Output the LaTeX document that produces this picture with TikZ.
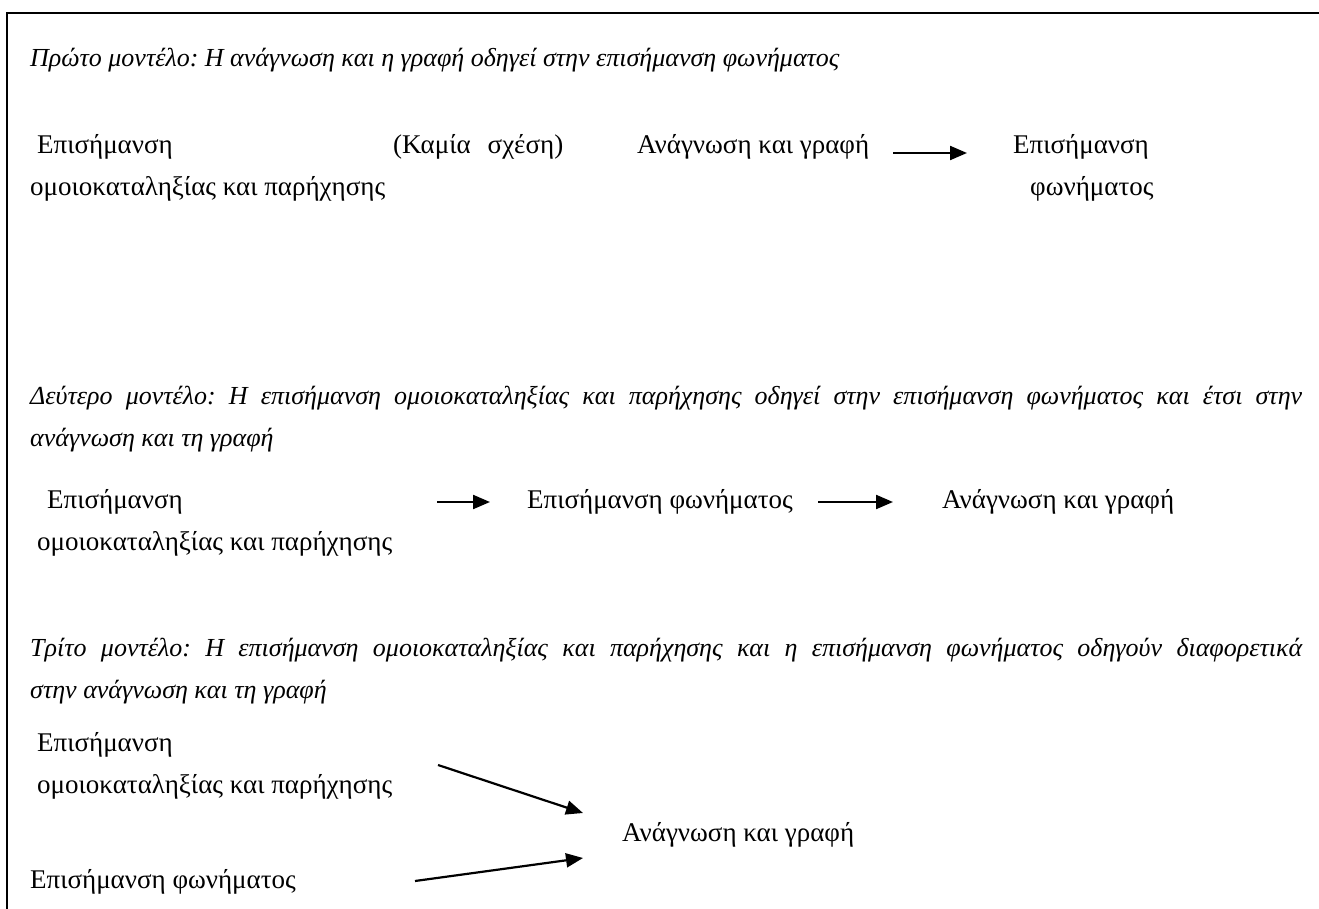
\documentclass[tikz,border=0pt]{standalone}
\usepackage{fontspec}
\setmainfont{Liberation Serif}
\usetikzlibrary{arrows.meta}
\frenchspacing
\begin{document}
\begin{tikzpicture}[x=1pt,y=-1pt,
  txt/.style={anchor=base west,inner sep=0pt,font=\fontsize{27}{32}\selectfont},
  ttl/.style={txt,font=\fontsize{26}{31}\selectfont\itshape},
  arr/.style={line width=2.2pt,-{Triangle[length=17pt,width=14pt]}}]
\useasboundingbox (0,0) rectangle (1319,909);
% frame: only the top and left edges fall inside the page
\draw[line width=2pt] (7,909) -- (7,13) -- (1319,13);

% first model
\node[ttl] (t1) at (30,67) {Πρώτο μοντέλο: Η ανάγνωση και η γραφή οδηγεί στην επισήμανση φωνήματος};
\node[txt] (r1a) at (37,154) {Επισήμανση};
\node[txt] (r1b) at (30,196) {ομοιοκαταληξίας και παρήχησης};
\node[txt] (r1c) at (393,154) {(Καμία\hspace{17pt}σχέση)};
\node[txt] (r1d) at (637,154) {Ανάγνωση και γραφή};
\node[txt] (r1e) at (1013,154) {Επισήμανση};
\node[txt] (r1f) at (1030,196) {φωνήματος};
\coordinate (a1s) at (893,153);
\coordinate (a1e) at (967,153);
\draw[arr] (a1s) -- (a1e);

% second model
\node[ttl] (t2a) at (30,404) {\makebox[1272pt][s]{Δεύτερο μοντέλο: Η επισήμανση ομοιοκαταληξίας και παρήχησης οδηγεί στην επισήμανση φωνήματος και έτσι στην}};
\node[ttl] (t2b) at (30,446) {ανάγνωση και τη γραφή};
\node[txt] (r2a) at (47,508) {Επισήμανση};
\node[txt] (r2b) at (37,550) {ομοιοκαταληξίας και παρήχησης};
\node[txt] (r2c) at (527,508) {Επισήμανση φωνήματος};
\node[txt] (r2d) at (942,508) {Ανάγνωση και γραφή};
\coordinate (a2s) at (437,502);
\coordinate (a2e) at (490,502);
\coordinate (a3s) at (818,502);
\coordinate (a3e) at (893,502);
\draw[arr] (a2s) -- (a2e);
\draw[arr] (a3s) -- (a3e);

% third model
\node[ttl] (t3a) at (30,656) {\makebox[1272pt][s]{Τρίτο μοντέλο: Η επισήμανση ομοιοκαταληξίας και παρήχησης και η επισήμανση φωνήματος οδηγούν διαφορετικά}};
\node[ttl] (t3b) at (30,698) {στην ανάγνωση και τη γραφή};
\node[txt] (r3a) at (37,751) {Επισήμανση};
\node[txt] (r3b) at (37,793) {ομοιοκαταληξίας και παρήχησης};
\node[txt] (r3c) at (622,841) {Ανάγνωση και γραφή};
\node[txt] (r3d) at (30,888) {Επισήμανση φωνήματος};
\coordinate (a4s) at (438,765);
\coordinate (a4e) at (583,813);
\coordinate (a5s) at (415,881);
\coordinate (a5e) at (583,858);
\draw[arr] (a4s) -- (a4e);
\draw[arr] (a5s) -- (a5e);
\end{tikzpicture}
\end{document}
